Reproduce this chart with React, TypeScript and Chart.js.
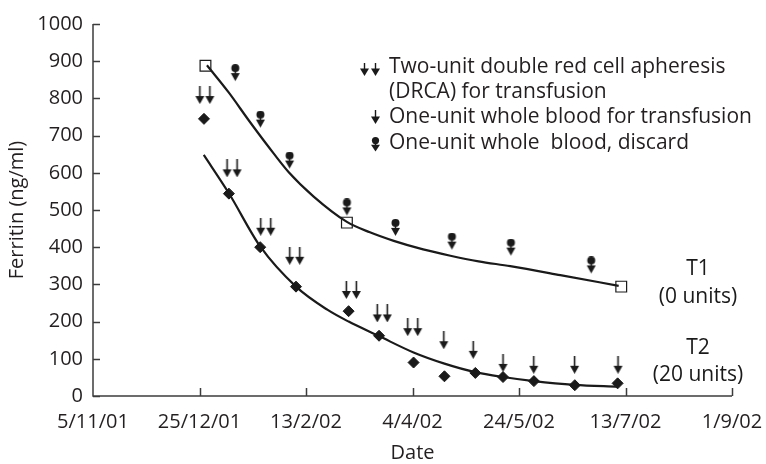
import React, { useEffect, useRef } from "react";
import { Chart, registerables } from "chart.js";

Chart.register(...registerables);

// ---------- data ----------
// x values are days counted from 5/11/01
const xTickLabels = ["5/11/01", "25/12/01", "13/2/02", "4/4/02", "24/5/02", "13/7/02", "1/9/02"];
const yTickStep = 100;

const t1SampleDays = [52.8, 119.2, 248];
const t1SampleFerritin = [888, 466, 294];
const t1FitDays = [53.5, 63.7, 73, 82.4, 91.8, 103.6, 119.2, 130, 141.2, 155, 167.8, 181, 195.9, 219.4, 246.8];
const t1FitFerritin = [889, 816, 742, 670, 602, 536, 468, 440, 417, 394, 377, 362, 349, 325, 296];

const t2SampleDays = [52.1, 63.8, 78.5, 95.3, 120, 134.3, 150.5, 165, 179.5, 192.5, 207, 226.2, 246.3];
const t2SampleFerritin = [745, 544, 400, 294, 228, 162, 90, 53, 62, 51, 40, 29, 34];
const t2FitDays = [52, 63.8, 78.5, 95.3, 110, 120, 134.3, 150.5, 165, 179.5, 192.5, 207, 226, 246.6];
const t2FitFerritin = [648, 545, 402, 294, 232, 200, 161, 117, 87, 64, 51, 40, 30, 25];

const drcaDays = [52.5, 65.3, 81.1, 94.7, 121.3, 135.8, 150.1];
const drcaLevel = [809, 612, 455, 377, 285, 222, 185];
const wholeBloodDays = [164.7, 178.5, 192.5, 206.9, 226.1, 246.5];
const wholeBloodLevel = [150, 124, 89, 84, 84, 84];
const discardDays = [66.8, 78.6, 92.3, 119.2, 142, 168.5, 196.2, 233.9];
const discardLevel = [868, 743, 633, 507, 452, 415, 399, 351];

const legendLines = [
  "Two-unit double red cell apheresis",
  "(DRCA) for transfusion",
  "One-unit whole blood for transfusion",
  "One-unit whole  blood, discard",
];
const seriesLabels = [["T1", "(0 units)"], ["T2", "(20 units)"]];

// ---------- styling ----------
const FONT = "'Open Sans', 'Noto Sans', sans-serif";
const INK = "#1a1a1a";
const TEXT = "#231f20";
const AXIS = "#3c3c3c";

const zip = (xs: number[], ys: number[]) => xs.map((v, i) => ({ x: v, y: ys[i] }));

function arrow(ctx: CanvasRenderingContext2D, cx: number, top: number, bottom: number, headW: number, headH: number, lw: number) {
  ctx.strokeStyle = INK;
  ctx.fillStyle = INK;
  ctx.lineWidth = lw;
  ctx.beginPath();
  ctx.moveTo(cx, top);
  ctx.lineTo(cx, bottom - headH + 1);
  ctx.stroke();
  ctx.beginPath();
  ctx.moveTo(cx - headW / 2, bottom - headH);
  ctx.lineTo(cx + headW / 2, bottom - headH);
  ctx.lineTo(cx, bottom);
  ctx.closePath();
  ctx.fill();
}

function discardGlyph(ctx: CanvasRenderingContext2D, cx: number, top: number, h: number, r: number, headW: number) {
  ctx.fillStyle = INK;
  ctx.beginPath();
  ctx.arc(cx, top + r, r, 0, Math.PI * 2);
  ctx.fill();
  arrow(ctx, cx, top + 2 * r - 1, top + h, headW, h * 0.47, 1.5);
}

function makeCanvas(w: number, h: number, draw: (c: CanvasRenderingContext2D) => void) {
  const c = document.createElement("canvas");
  c.width = w;
  c.height = h;
  const ctx = c.getContext("2d")!;
  draw(ctx);
  return c;
}

export default function App() {
  const ref = useRef<HTMLCanvasElement>(null);

  useEffect(() => {
    if (!ref.current) return;
    document.body.style.margin = "0";

    const singleImg = makeCanvas(11, 18, (c) => arrow(c, 5.5, 0, 18, 9, 8, 1.6));
    const doubleImg = makeCanvas(21, 18, (c) => {
      arrow(c, 5.5, 0, 18, 9, 8, 1.6);
      arrow(c, 15.5, 0, 18, 9, 8, 1.6);
    });
    const discardImg = makeCanvas(11, 18, (c) => discardGlyph(c, 5.5, 0, 17, 4, 9));

    const decor = {
      id: "decor",
      beforeDatasetsDraw(chart: any) {
        const { ctx, chartArea: a, scales } = chart;
        const xs = scales.x;
        const ys = scales.y;
        ctx.save();
        ctx.strokeStyle = AXIS;
        ctx.lineWidth = 1.5;
        ctx.beginPath();
        ctx.moveTo(a.left, a.top);
        ctx.lineTo(a.left, a.bottom);
        ctx.lineTo(a.right, a.bottom);
        xs.ticks.forEach((t: any) => {
          if (t.value <= xs.min) return;
          const px = Math.round(xs.getPixelForValue(t.value)) + 0.5;
          ctx.moveTo(px, a.bottom);
          ctx.lineTo(px, a.bottom - 8);
        });
        ys.ticks.forEach((t: any) => {
          const py = Math.round(ys.getPixelForValue(t.value)) + 0.5;
          ctx.moveTo(a.left, py);
          ctx.lineTo(a.left + 7, py);
        });
        ctx.stroke();
        ctx.restore();
      },
      afterDraw(chart: any) {
        const { ctx, scales } = chart;
        const xs = scales.x;
        const ys = scales.y;
        ctx.save();
        ctx.font = `21px ${FONT}`;
        ctx.fillStyle = TEXT;
        ctx.textBaseline = "middle";
        ctx.textAlign = "left";
        const lineY = [67.5, 92.5, 117.5, 143];
        legendLines.forEach((s, i) => ctx.fillText(s, 389, lineY[i]));
        // legend glyphs
        arrow(ctx, 364.5, 63, 76, 9, 7.5, 1.4);
        arrow(ctx, 375.5, 63, 76, 9, 7.5, 1.4);
        arrow(ctx, 375.5, 110, 124, 9, 7.5, 1.4);
        discardGlyph(ctx, 375.5, 137, 14.5, 3.6, 9);
        // series labels
        ctx.textAlign = "center";
        const cx = xs.getPixelForValue(284);
        ctx.fillText(seriesLabels[0][0], cx, ys.getPixelForValue(341));
        ctx.fillText(seriesLabels[0][1], cx, ys.getPixelForValue(266));
        ctx.fillText(seriesLabels[1][0], cx, ys.getPixelForValue(129));
        ctx.fillText(seriesLabels[1][1], cx, ys.getPixelForValue(56));
        ctx.restore();
      },
    };

    const chart = new Chart(ref.current, {
      type: "scatter",
      data: {
        datasets: [
          {
            type: "line",
            data: zip(t1FitDays, t1FitFerritin),
            borderColor: INK,
            borderWidth: 2.2,
            pointRadius: 0,
            cubicInterpolationMode: "monotone",
            fill: false,
          } as any,
          {
            type: "line",
            data: zip(t2FitDays, t2FitFerritin),
            borderColor: INK,
            borderWidth: 2.2,
            pointRadius: 0,
            cubicInterpolationMode: "monotone",
            fill: false,
          } as any,
          {
            data: zip(t1SampleDays, t1SampleFerritin),
            pointStyle: "rect",
            pointRadius: 7.6,
            borderWidth: 1.2,
            borderColor: INK,
            backgroundColor: "#ffffff",
          },
          {
            data: zip(t2SampleDays, t2SampleFerritin),
            pointStyle: "rectRot",
            pointRadius: 5.5,
            borderWidth: 1,
            borderColor: INK,
            backgroundColor: INK,
          },
          {
            data: zip(drcaDays, drcaLevel),
            pointStyle: doubleImg as any,
            pointRadius: 10,
          },
          {
            data: zip(wholeBloodDays, wholeBloodLevel),
            pointStyle: singleImg as any,
            pointRadius: 10,
          },
          {
            data: zip(discardDays, discardLevel),
            pointStyle: discardImg as any,
            pointRadius: 10,
          },
        ],
      },
      options: {
        animation: false,
        responsive: false,
        events: [],
        layout: { padding: { top: 24, right: 34, left: 0, bottom: 0 } },
        plugins: { legend: { display: false }, tooltip: { enabled: false } },
        scales: {
          x: {
            type: "linear",
            min: 0,
            max: 300,
            afterFit: (s: any) => {
              s.height = 68;
              s.paddingLeft = 0;
              s.paddingRight = 0;
            },
            grid: { display: false, drawTicks: false },
            border: { display: false },
            ticks: {
              stepSize: 50,
              autoSkip: false,
              maxRotation: 0,
              padding: 14,
              color: TEXT,
              font: { family: FONT, size: 20 },
              callback: (v: any) => xTickLabels[Math.round(Number(v) / 50)] ?? "",
            },
            title: {
              display: true,
              text: "Date",
              color: TEXT,
              font: { family: FONT, size: 20, lineHeight: 1 },
              padding: { top: 0, bottom: 1 },
            },
          },
          y: {
            type: "linear",
            min: 0,
            max: 1000,
            afterFit: (s: any) => {
              s.width = 93;
              s.paddingTop = 0;
              s.paddingBottom = 0;
            },
            grid: { display: false, drawTicks: false },
            border: { display: false },
            ticks: {
              stepSize: yTickStep,
              padding: 10,
              color: TEXT,
              font: { family: FONT, size: 20 },
              callback: (v: any) => String(v),
            },
            title: {
              display: true,
              text: "Ferritin (ng/ml)",
              color: TEXT,
              font: { family: FONT, size: 20, lineHeight: 1.2 },
              padding: { top: 5, bottom: 0 },
            },
          },
        },
      },
      plugins: [decor],
    });

    return () => chart.destroy();
  }, []);

  return (
    <div style={{ position: "absolute", left: 0, top: 0, width: 766, height: 464, background: "#fff" }}>
      <canvas ref={ref} width={766} height={464} style={{ width: 766, height: 464, display: "block" }} />
    </div>
  );
}
